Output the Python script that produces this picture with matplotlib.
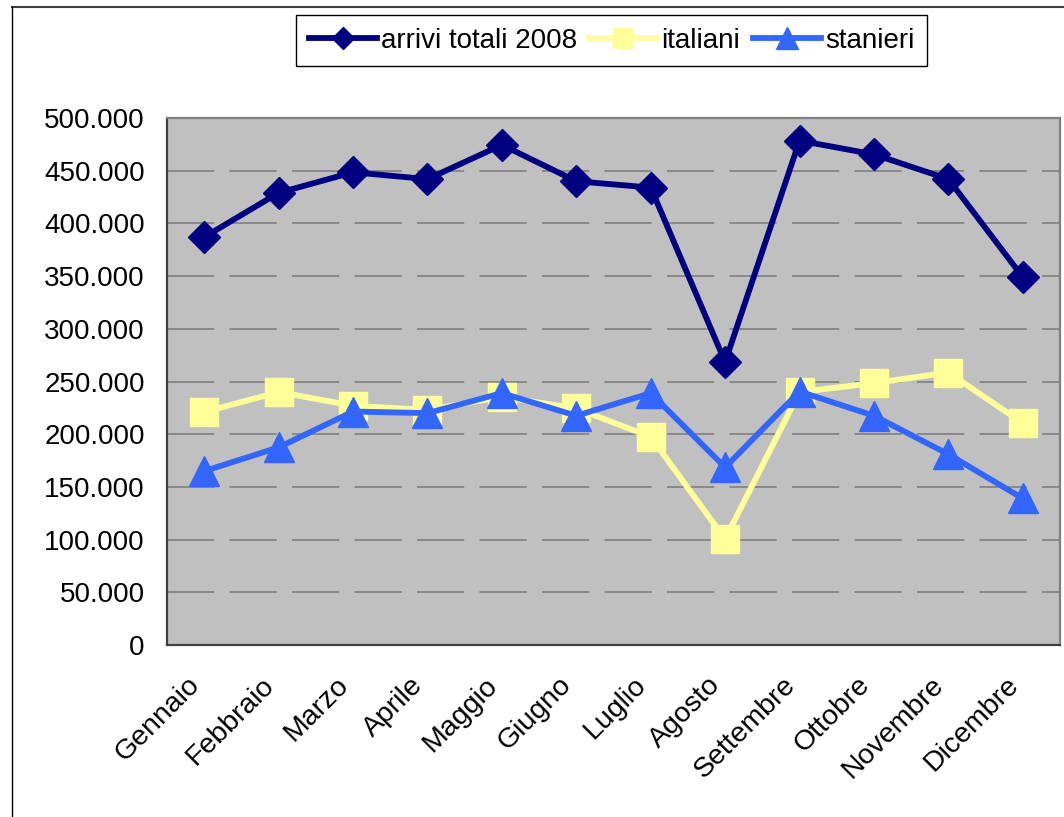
import matplotlib
matplotlib.use("Agg")
import matplotlib.pyplot as plt
from matplotlib.lines import Line2D
from matplotlib.ticker import FuncFormatter, MultipleLocator
from matplotlib.transforms import ScaledTranslation

plt.rcParams['font.family'] = ['Liberation Sans', 'DejaVu Sans']
plt.rcParams['lines.scale_dashes'] = False

mesi = ["Gennaio", "Febbraio", "Marzo", "Aprile", "Maggio", "Giugno",
        "Luglio", "Agosto", "Settembre", "Ottobre", "Novembre", "Dicembre"]
arrivi_totali = [387000, 429000, 448500, 442000, 474500, 440000,
                 434000, 268500, 478500, 465500, 442000, 349000]
italiani = [221000, 240000, 227000, 223000, 235500, 224500,
            197500, 100500, 240000, 248500, 258500, 210500]
stranieri = [165000, 187500, 221500, 220000, 239000, 217500,
             239000, 168500, 240500, 217500, 181000, 139000]

fig = plt.figure(figsize=(10.64, 8.17), dpi=100)
ax = fig.add_axes([167 / 1064, 172 / 817, 893 / 1064, 527 / 817])
ax.set_facecolor('#C0C0C0')

x = range(len(mesi))
ax.plot(x, arrivi_totali, color='#000080', lw=4.2, marker='D', ms=16,
        mec='#000080', mew=1, label='arrivi totali 2008', zorder=3)
ax.plot(x, italiani, color='#FFFF99', lw=4.2, marker='s', ms=20,
        mec='#FFFF99', mew=1, label='italiani', zorder=4)
ax.plot(x, stranieri, color='#3366FF', lw=4.2, marker='^', ms=22,
        mec='#3366FF', mew=1, label='stanieri', zorder=5)

ax.set_xlim(-0.5, 11.5)
ax.set_ylim(0, 500000)
ax.yaxis.set_major_locator(MultipleLocator(50000))
ax.yaxis.set_major_formatter(FuncFormatter(lambda v, p: f"{int(v):,}".replace(",", ".")))
ax.grid(axis='y', color='#808080', lw=1.2, linestyle=(0, (34, 11)))
ax.set_axisbelow(True)

ax.set_xticks(list(x))
ax.set_xticklabels(mesi, rotation=45, ha='right', va='center', rotation_mode='anchor')
ax.tick_params(axis='x', length=0, pad=26, labelsize=20.5)
ax.tick_params(axis='y', length=0, pad=16, labelsize=20)
for lbl in ax.get_xticklabels():
    lbl.set_transform(lbl.get_transform() + ScaledTranslation(-6 / 72, 0, fig.dpi_scale_trans))

for side in ['left', 'bottom']:
    ax.spines[side].set_color('#404040')
    ax.spines[side].set_linewidth(1.6)
for side in ['top', 'right']:
    ax.spines[side].set_color('#808080')
    ax.spines[side].set_linewidth(1.6)

leg = ax.legend(loc='upper left', bbox_to_anchor=(296 / 1064, 1 - 15 / 817),
                bbox_transform=fig.transFigure, ncol=3, fontsize=20,
                frameon=True, fancybox=False, edgecolor='black', framealpha=1,
                handlelength=2.45, handletextpad=0.15, columnspacing=0.45,
                borderpad=0.45, borderaxespad=0, markerscale=0.72)
leg.get_frame().set_linewidth(1.0)

# cornice del grafico (solo sopra e a sinistra)
fig.add_artist(Line2D([12 / 1064, 1], [1 - 6.5 / 817] * 2, transform=fig.transFigure,
                      color='#404040', lw=1.5))
fig.add_artist(Line2D([12 / 1064] * 2, [0, 1 - 6.5 / 817], transform=fig.transFigure,
                      color='black', lw=1))

fig.savefig('out.png', dpi=100)
